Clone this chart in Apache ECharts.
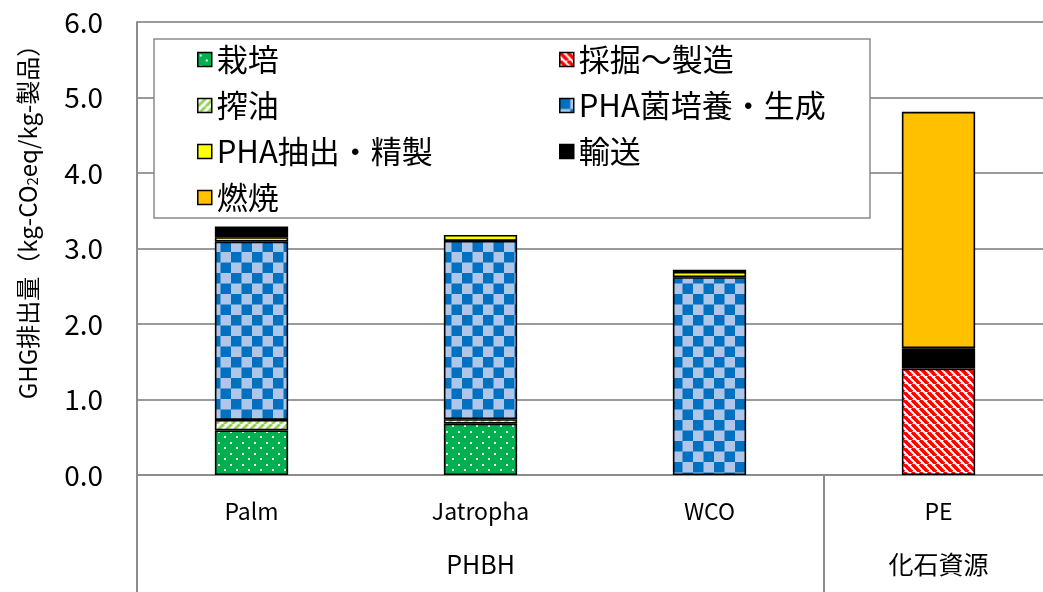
<!DOCTYPE html>
<html>
<head>
<meta charset="utf-8">
<script src="https://cdn.jsdelivr.net/npm/echarts@6/dist/echarts.min.js"></script>
<style>
  html, body { margin: 0; padding: 0; background: #fff; }
  #chart { width: 1043px; height: 592px; }
</style>
</head>
<body>
<div id="chart"></div>
<script>
// Categories and their upper-level groups
const categories = ['Palm', 'Jatropha', 'WCO', 'PE'];
const groupNames = ['PHBH', '化石資源'];
const groupSpans = [3, 1];

// Y axis ticks
const yMin = 0, yMax = 6, yStep = 1;

// Emission per stage (kg-CO2eq / kg-product)
const cultivation  = [0.59, 0.68, 0,    0   ]; // 栽培
const mining       = [0,    0,    0,    1.41]; // 採掘〜製造
const oilPressing  = [0.14, 0.06, 0,    0   ]; // 搾油
const culture      = [2.36, 2.36, 2.62, 0   ]; // PHA菌培養・生成
const purification = [0.06, 0.08, 0.07, 0   ]; // PHA抽出・精製
const transport    = [0.14, 0,    0.03, 0.27]; // 輸送
const combustion   = [0,    0,    0,    3.13]; // 燃焼

const seriesNames = ['栽培', '採掘〜製造', '搾油', 'PHA菌培養・生成', 'PHA抽出・精製', '輸送', '燃焼'];
const seriesValues = [cultivation, mining, oilPressing, culture, purification, transport, combustion];

const FONT = '"Noto Sans CJK JP", "Noto Sans", sans-serif';

// ---- fill patterns ----
function makeCanvas(w, h, draw) {
  const c = document.createElement('canvas');
  c.width = w; c.height = h;
  draw(c.getContext('2d'), w, h);
  return c;
}
function dots() {
  return makeCanvas(12, 11, (g, w, h) => {
    g.fillStyle = '#00b050'; g.fillRect(0, 0, w, h);
    g.fillStyle = '#e8ffe8';
    g.fillRect(2, 2, 2, 2);
    g.fillRect(8, 7, 2, 2);
  });
}
function checker() {
  return makeCanvas(21, 21, (g, w, h) => {
    g.fillStyle = '#b0c6e8'; g.fillRect(0, 0, w, h);
    g.fillStyle = '#0070c0';
    g.fillRect(0, 0, 10.5, 10.5);
    g.fillRect(10.5, 10.5, 10.5, 10.5);
  });
}
function stripes(color, back, width) {
  // back === true -> "\" direction, otherwise "/"
  return makeCanvas(8, 8, (g, w, h) => {
    g.fillStyle = '#ffffff'; g.fillRect(0, 0, w, h);
    g.strokeStyle = color; g.lineWidth = width;
    for (let k = -w; k <= w; k += w) {
      g.beginPath();
      if (back) { g.moveTo(k, 0); g.lineTo(k + w, h); }
      else { g.moveTo(k, h); g.lineTo(k + w, 0); }
      g.stroke();
    }
  });
}
const pat = c => ({ image: c, repeat: 'repeat' });
const fills = [
  pat(dots()),
  pat(stripes('#ff0000', true, 3.6)),
  pat(stripes('#92d050', false, 3)),
  pat(checker()),
  '#ffff00',
  '#000000',
  '#ffc000'
];

const series = seriesNames.map((name, i) => ({
  name,
  type: 'bar',
  stack: 'total',
  barWidth: '32%',
  itemStyle: { color: fills[i], borderColor: '#000', borderWidth: 1.6 },
  data: seriesValues[i].map(v => (v === 0 ? '-' : v))
}));

// group boundaries / centres on the category scale
const bounds = [0];
groupSpans.forEach(s => bounds.push(bounds[bounds.length - 1] + s));
const groupCenters = groupSpans.map((s, i) => bounds[i] + s / 2);

const legendBase = {
  orient: 'vertical', top: 44, padding: 0,
  icon: 'rect', itemWidth: 14, itemHeight: 14, itemGap: 15,
  itemStyle: { borderColor: '#000', borderWidth: 1.5 },
  textStyle: { fontSize: 31, lineHeight: 30, color: '#000', fontFamily: FONT },
  selectedMode: false, z: 6
};

const chart = echarts.init(document.getElementById('chart'), null, { renderer: 'canvas' });
chart.setOption({
  animation: false,
  backgroundColor: '#fff',
  textStyle: { fontFamily: FONT },
  grid: { left: 137, top: 22, width: 916, bottom: 117, outerBoundsMode: 'none', containLabel: false },
  xAxis: [
    {
      type: 'category',
      data: categories,
      axisLine: { lineStyle: { color: '#8c8c8c', width: 2 } },
      axisTick: { show: false },
      axisLabel: { color: '#000', fontSize: 23, margin: 25, fontFamily: FONT }
    },
    {
      type: 'value',
      min: 0,
      max: categories.length,
      position: 'bottom',
      axisLine: { show: false },
      splitLine: { show: false },
      axisTick: { show: true, customValues: bounds.slice(0, -1), length: 117, lineStyle: { color: '#8c8c8c', width: 2 } },
      axisLabel: {
        customValues: groupCenters,
        margin: 77,
        color: '#000',
        fontSize: 25,
        fontFamily: FONT,
        formatter: v => groupNames[groupCenters.indexOf(v)] || ''
      }
    }
  ],
  yAxis: {
    type: 'value',
    min: yMin,
    max: yMax,
    interval: yStep,
    axisLine: { show: true, lineStyle: { color: '#8c8c8c', width: 2 } },
    axisTick: { show: false },
    splitLine: { lineStyle: { color: '#9a9a9a', width: 2 } },
    axisLabel: { color: '#000', fontSize: 28, margin: 34, fontFamily: FONT, formatter: v => v.toFixed(1) }
  },
  legend: [
    Object.assign({}, legendBase, {
      left: 197,
      data: [seriesNames[0], seriesNames[2], seriesNames[4], seriesNames[6]]
    }),
    Object.assign({}, legendBase, {
      left: 559,
      data: [seriesNames[1], seriesNames[3], seriesNames[5]]
    })
  ],
  graphic: [
    {
      type: 'rect', z: 5,
      shape: { x: 154, y: 39, width: 716, height: 179 },
      style: { fill: '#fff', stroke: '#8c8c8c', lineWidth: 1.5 }
    },
    {
      type: 'text', z: 5,
      x: 28, y: 216, rotation: Math.PI / 2,
      style: {
        text: 'GHG排出量（kg-CO{s|2}eq/kg-製品）',
        fontSize: 24, fontFamily: FONT, fill: '#000',
        align: 'center', verticalAlign: 'middle',
        rich: { s: { fontSize: 15, fontFamily: FONT, verticalAlign: 'bottom', fill: '#000' } }
      }
    }
  ],
  series
});
</script>
</body>
</html>
